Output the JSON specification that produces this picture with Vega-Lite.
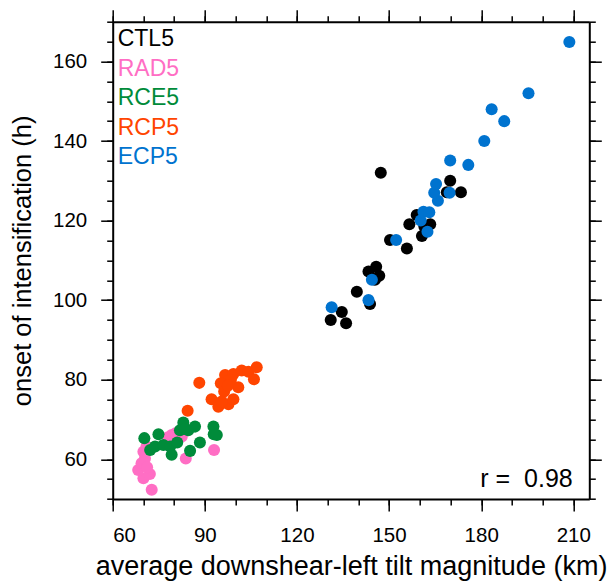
{
  "$schema": "https://vega.github.io/schema/vega-lite/v6.json",
  "autosize": "none",
  "width": 476.6,
  "height": 477.3,
  "padding": {"left": 112.7, "top": 21.7, "right": 18.7, "bottom": 87},
  "config": {
    "view": {"stroke": null},
    "font": "Liberation Sans",
    "axis": {"grid": false, "domainColor": "#000", "domainWidth": 2, "tickColor": "#000", "tickWidth": 1.5, "labelColor": "#000", "titleColor": "#000", "labelFont": "Liberation Sans", "titleFont": "Liberation Sans", "labelFontSize": 20.5, "titleFontSize": 27, "titleFontWeight": "normal", "labelPadding": 14}
  },
  "data": {"values": [
    {"exp": "CTL5", "tilt": 131.0, "onset": 95.0},
    {"exp": "CTL5", "tilt": 134.6, "onset": 97.0},
    {"exp": "CTL5", "tilt": 136.0, "onset": 94.2},
    {"exp": "CTL5", "tilt": 139.5, "onset": 102.1},
    {"exp": "CTL5", "tilt": 143.8, "onset": 99.0},
    {"exp": "CTL5", "tilt": 143.3, "onset": 107.2},
    {"exp": "CTL5", "tilt": 145.8, "onset": 108.4},
    {"exp": "CTL5", "tilt": 146.8, "onset": 106.1},
    {"exp": "CTL5", "tilt": 145.4, "onset": 105.1},
    {"exp": "CTL5", "tilt": 147.3, "onset": 132.0},
    {"exp": "CTL5", "tilt": 150.3, "onset": 115.1},
    {"exp": "CTL5", "tilt": 155.8, "onset": 113.0},
    {"exp": "CTL5", "tilt": 156.6, "onset": 119.1},
    {"exp": "CTL5", "tilt": 159.0, "onset": 121.4},
    {"exp": "CTL5", "tilt": 160.7, "onset": 116.1},
    {"exp": "CTL5", "tilt": 163.4, "onset": 119.1},
    {"exp": "CTL5", "tilt": 161.5, "onset": 118.5},
    {"exp": "CTL5", "tilt": 168.8, "onset": 127.1},
    {"exp": "CTL5", "tilt": 169.9, "onset": 130.0},
    {"exp": "CTL5", "tilt": 173.4, "onset": 127.1},
    {"exp": "RAD5", "tilt": 72.7, "onset": 52.3},
    {"exp": "RAD5", "tilt": 70.0, "onset": 55.2},
    {"exp": "RAD5", "tilt": 72.1, "onset": 56.3},
    {"exp": "RAD5", "tilt": 68.3, "onset": 57.3},
    {"exp": "RAD5", "tilt": 69.4, "onset": 59.0},
    {"exp": "RAD5", "tilt": 70.5, "onset": 60.2},
    {"exp": "RAD5", "tilt": 70.0, "onset": 61.9},
    {"exp": "RAD5", "tilt": 71.0, "onset": 63.2},
    {"exp": "RAD5", "tilt": 71.2, "onset": 58.0},
    {"exp": "RAD5", "tilt": 78.0, "onset": 65.5},
    {"exp": "RAD5", "tilt": 79.2, "onset": 66.1},
    {"exp": "RAD5", "tilt": 80.5, "onset": 66.5},
    {"exp": "RAD5", "tilt": 82.5, "onset": 65.7},
    {"exp": "RAD5", "tilt": 83.8, "onset": 60.2},
    {"exp": "RAD5", "tilt": 93.0, "onset": 62.3},
    {"exp": "RCE5", "tilt": 70.3, "onset": 65.3},
    {"exp": "RCE5", "tilt": 74.9, "onset": 66.3},
    {"exp": "RCE5", "tilt": 72.2, "onset": 62.3},
    {"exp": "RCE5", "tilt": 73.8, "onset": 63.2},
    {"exp": "RCE5", "tilt": 76.5, "onset": 63.6},
    {"exp": "RCE5", "tilt": 78.7, "onset": 63.2},
    {"exp": "RCE5", "tilt": 79.2, "onset": 61.1},
    {"exp": "RCE5", "tilt": 81.0, "onset": 64.2},
    {"exp": "RCE5", "tilt": 81.9, "onset": 67.3},
    {"exp": "RCE5", "tilt": 83.0, "onset": 69.2},
    {"exp": "RCE5", "tilt": 84.6, "onset": 67.3},
    {"exp": "RCE5", "tilt": 86.8, "onset": 68.2},
    {"exp": "RCE5", "tilt": 85.2, "onset": 62.1},
    {"exp": "RCE5", "tilt": 88.4, "onset": 64.2},
    {"exp": "RCE5", "tilt": 92.8, "onset": 68.2},
    {"exp": "RCE5", "tilt": 93.9, "onset": 66.1},
    {"exp": "RCE5", "tilt": 92.9, "onset": 66.3},
    {"exp": "RCE5", "tilt": 83.5, "onset": 67.6},
    {"exp": "RCP5", "tilt": 88.2, "onset": 79.2},
    {"exp": "RCP5", "tilt": 84.4, "onset": 72.2},
    {"exp": "RCP5", "tilt": 92.2, "onset": 75.1},
    {"exp": "RCP5", "tilt": 96.6, "onset": 81.2},
    {"exp": "RCP5", "tilt": 99.3, "onset": 81.4},
    {"exp": "RCP5", "tilt": 95.2, "onset": 79.1},
    {"exp": "RCP5", "tilt": 96.3, "onset": 77.0},
    {"exp": "RCP5", "tilt": 94.4, "onset": 73.2},
    {"exp": "RCP5", "tilt": 97.7, "onset": 73.8},
    {"exp": "RCP5", "tilt": 99.3, "onset": 75.1},
    {"exp": "RCP5", "tilt": 100.9, "onset": 78.1},
    {"exp": "RCP5", "tilt": 98.5, "onset": 80.0},
    {"exp": "RCP5", "tilt": 102.0, "onset": 82.3},
    {"exp": "RCP5", "tilt": 104.2, "onset": 82.0},
    {"exp": "RCP5", "tilt": 106.9, "onset": 83.1},
    {"exp": "RCP5", "tilt": 106.0, "onset": 80.1},
    {"exp": "RCP5", "tilt": 97.5, "onset": 78.5},
    {"exp": "RCP5", "tilt": 95.5, "onset": 74.5},
    {"exp": "ECP5", "tilt": 131.3, "onset": 98.2},
    {"exp": "ECP5", "tilt": 143.3, "onset": 100.0},
    {"exp": "ECP5", "tilt": 144.4, "onset": 105.1},
    {"exp": "ECP5", "tilt": 152.3, "onset": 115.1},
    {"exp": "ECP5", "tilt": 162.5, "onset": 117.2},
    {"exp": "ECP5", "tilt": 160.3, "onset": 120.0},
    {"exp": "ECP5", "tilt": 161.2, "onset": 122.2},
    {"exp": "ECP5", "tilt": 163.1, "onset": 122.1},
    {"exp": "ECP5", "tilt": 165.9, "onset": 125.0},
    {"exp": "ECP5", "tilt": 164.7, "onset": 127.0},
    {"exp": "ECP5", "tilt": 169.7, "onset": 127.0},
    {"exp": "ECP5", "tilt": 165.3, "onset": 129.2},
    {"exp": "ECP5", "tilt": 169.9, "onset": 135.1},
    {"exp": "ECP5", "tilt": 175.8, "onset": 134.0},
    {"exp": "ECP5", "tilt": 181.0, "onset": 140.0},
    {"exp": "ECP5", "tilt": 183.4, "onset": 148.0},
    {"exp": "ECP5", "tilt": 187.5, "onset": 145.0},
    {"exp": "ECP5", "tilt": 195.4, "onset": 152.0},
    {"exp": "ECP5", "tilt": 208.7, "onset": 164.9}
  ]},
  "layer": [
    {
      "mark": {"type": "point", "filled": true, "opacity": 1, "size": 145, "strokeWidth": 0},
      "encoding": {
        "x": {"field": "tilt", "type": "quantitative", "scale": {"domain": [60, 215.2], "nice": false, "zero": false},
              "axis": {"orient": "bottom", "values": [60, 90, 120, 150, 180, 210], "tickSize": 12, "title": "average downshear-left tilt magnitude (km)", "titlePadding": 8}},
        "y": {"field": "onset", "type": "quantitative", "scale": {"domain": [50, 170], "nice": false, "zero": false},
              "axis": {"orient": "left", "values": [60, 80, 100, 120, 140, 160], "tickSize": 12, "title": "onset of intensification (h)", "titleFontSize": 25.5, "titlePadding": 17}},
        "color": {"field": "exp", "type": "nominal",
                  "scale": {"domain": ["CTL5", "RAD5", "RCE5", "RCP5", "ECP5"], "range": ["#000000", "#FF6EC4", "#008B3A", "#FF4500", "#0073CF"]},
                  "legend": {"title": null, "orient": "top-left", "offset": 6, "padding": 0, "symbolSize": 0, "symbolOpacity": 0, "symbolStrokeWidth": 0, "labelOffset": -24, "rowPadding": 5.5, "labelFontSize": 23, "labelFont": "Liberation Sans",
                             "encode": {"labels": {"update": {"fill": {"scale": "color", "field": "value"}}}}}}
      }
    },
    {
      "mark": {"type": "point", "opacity": 0},
      "encoding": {
        "x": {"field": "tilt", "type": "quantitative", "axis": {"orient": "bottom", "values": [60, 70, 80, 90, 100, 110, 120, 130, 140, 150, 160, 170, 180, 190, 200, 210], "tickSize": 6, "labels": false, "domain": false, "title": null}},
        "y": {"field": "onset", "type": "quantitative", "axis": {"orient": "left", "values": [50, 55, 60, 65, 70, 75, 80, 85, 90, 95, 100, 105, 110, 115, 120, 125, 130, 135, 140, 145, 150, 155, 160, 165, 170], "tickSize": 6, "labels": false, "domain": false, "title": null}}
      }
    },
    {
      "mark": {"type": "point", "opacity": 0},
      "encoding": {
        "x": {"field": "tilt", "type": "quantitative", "axis": {"orient": "top", "values": [60, 90, 120, 150, 180, 210], "tickSize": 12, "labels": false, "title": null}},
        "y": {"field": "onset", "type": "quantitative", "axis": {"orient": "right", "values": [60, 80, 100, 120, 140, 160], "tickSize": 12, "labels": false, "title": null}}
      }
    },
    {
      "mark": {"type": "point", "opacity": 0},
      "encoding": {
        "x": {"field": "tilt", "type": "quantitative", "axis": {"orient": "top", "values": [60, 70, 80, 90, 100, 110, 120, 130, 140, 150, 160, 170, 180, 190, 200, 210], "tickSize": 6, "labels": false, "domain": false, "title": null}},
        "y": {"field": "onset", "type": "quantitative", "axis": {"orient": "right", "values": [50, 55, 60, 65, 70, 75, 80, 85, 90, 95, 100, 105, 110, 115, 120, 125, 130, 135, 140, 145, 150, 155, 160, 165, 170], "tickSize": 6, "labels": false, "domain": false, "title": null}}
      }
    },
    {
      "data": {"values": [{"label": "r = \u00a00.98"}]},
      "mark": {"type": "text", "align": "right", "baseline": "alphabetic", "fontSize": 25, "font": "Liberation Sans", "color": "#000"},
      "encoding": {
        "x": {"datum": 209.8, "type": "quantitative", "axis": null},
        "y": {"datum": 52.9, "type": "quantitative", "axis": null},
        "text": {"field": "label"}
      }
    }
  ],
  "resolve": {"axis": {"x": "independent", "y": "independent"}}
}
